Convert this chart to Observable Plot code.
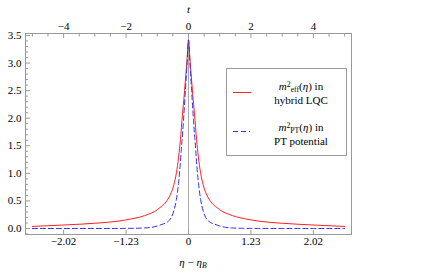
<!DOCTYPE html>
<html><head><meta charset="utf-8">
<script src="https://cdn.jsdelivr.net/npm/d3@7"></script>
<script src="https://cdn.jsdelivr.net/npm/@observablehq/plot@0.6"></script>
<style>
body{margin:0;background:#fff;}
#wrap{position:relative;width:442px;height:275px;font-family:"Liberation Serif","Times New Roman","DejaVu Serif",serif;font-size:11px;color:#000}
#wrap svg text{font-family:"Liberation Serif","Times New Roman","DejaVu Serif",serif}
.ov{position:absolute;white-space:nowrap;line-height:14px}
.lt{position:absolute;left:30px;width:88px;text-align:center;line-height:14px;white-space:nowrap}
sup,sub{font-size:70%;line-height:0;position:relative;vertical-align:baseline}
sup{top:-0.45em} sub{top:0.25em}
</style></head><body><div id="wrap"></div>
<script>
// Series (x in t units, top axis)
const tRed = [-5.0,-4.5,-3.89,-3.0,-2.29,-1.82,-1.54,-1.28,-1.08,-0.91,-0.75,-0.62,-0.48,-0.37,-0.30,-0.245,-0.21,-0.15,-0.1,-0.05,0,0.05,0.1,0.15,0.21,0.245,0.30,0.37,0.48,0.62,0.75,0.91,1.08,1.28,1.54,1.82,2.29,3.0,3.89,4.5,5.0];
const redVals = [0.037,0.05,0.066,0.095,0.13,0.175,0.21,0.26,0.31,0.38,0.46,0.57,0.77,1.07,1.38,1.70,1.96,2.34,2.68,3.04,3.42,3.04,2.68,2.34,1.96,1.70,1.38,1.07,0.77,0.57,0.46,0.38,0.31,0.26,0.21,0.175,0.13,0.095,0.066,0.05,0.037];
const tBlue = [-5.0,-4.0,-3.0,-2.2,-1.7,-1.4,-1.2,-1.0,-0.85,-0.75,-0.65,-0.55,-0.47,-0.39,-0.32,-0.27,-0.235,-0.2,-0.16,-0.1,-0.05,0,0.05,0.1,0.16,0.2,0.235,0.27,0.32,0.39,0.47,0.55,0.65,0.75,0.85,1.0,1.2,1.4,1.7,2.2,3.0,4.0,5.0];
const blueVals = [0,0,0,0.001,0.004,0.01,0.02,0.045,0.075,0.095,0.13,0.2,0.32,0.52,0.82,1.12,1.40,1.65,1.96,2.5,2.95,3.42,2.95,2.5,1.96,1.65,1.40,1.12,0.82,0.52,0.32,0.2,0.13,0.095,0.075,0.045,0.02,0.01,0.004,0.001,0,0,0];

// Ticks
const topMajor = [-4,-2,0,2,4];
const topMinor = [-5,-4.5,-3.5,-3,-2.5,-1.5,-1,-0.5,0.5,1,1.5,2.5,3,3.5,4.5,5];
const bottomT = [-4,-2,0,2,4];
const bottomLabels = ["−2.02","−1.23","0","1.23","2.02"];
const yMajor = [0,0.5,1,1.5,2,2.5,3,3.5];
const yMinor = [-0.1,0.1,0.2,0.3,0.4,0.6,0.7,0.8,0.9,1.1,1.2,1.3,1.4,1.6,1.7,1.8,1.9,2.1,2.2,2.3,2.4,2.6,2.7,2.8,2.9,3.1,3.2,3.3,3.4];

const red = tRed.map((t,i)=>({t, v: redVals[i]}));
const blue = tBlue.map((t,i)=>({t, v: blueVals[i]}));
const gray = "#999";

const chart = Plot.plot({
  width: 442, height: 275,
  marginLeft: 25, marginRight: 91, marginTop: 33, marginBottom: 41,
  x: {domain: [-5.22, 5.22]},
  y: {domain: [-0.109, 3.536]},
  style: {fontFamily: "'Liberation Serif', 'Times New Roman', 'DejaVu Serif', serif", fontSize: "11px", background: "white", color: "black"},
  marks: [
    Plot.ruleX([0], {stroke: "#aaa", strokeWidth: 1}),
    Plot.line(red, {x: "t", y: "v", stroke: "#ff2020", strokeWidth: 1, curve: "monotone-x"}),
    Plot.line(blue, {x: "t", y: "v", stroke: "#3030ff", strokeWidth: 1, strokeDasharray: "5,3", curve: "monotone-x"}),
    Plot.frame({stroke: gray}),
    Plot.axisY(yMajor, {anchor: "left", tickSize: -5, tickPadding: 9, tickFormat: d3.format(".1f"), stroke: gray, fill: "black", label: null}),
    Plot.axisY(yMinor, {anchor: "left", tickSize: -3, tickFormat: () => "", stroke: gray, label: null}),
    Plot.axisX(topMajor, {anchor: "top", tickSize: -4, tickPadding: 7.5, stroke: gray, fill: "black", label: null}),
    Plot.axisX(topMinor, {anchor: "top", tickSize: -2.5, tickFormat: () => "", stroke: gray, label: null}),
    Plot.axisX(bottomT, {anchor: "bottom", tickSize: -4, tickPadding: 7, tickFormat: d => bottomLabels[bottomT.indexOf(d)], stroke: gray, fill: "black", label: null}),
    Plot.text(["t"], {text: d => d, frameAnchor: "top", dy: -28, fontStyle: "italic"})
  ]
});
const wrap = document.getElementById("wrap");
wrap.appendChild(chart);

const xl = document.createElement("div");
xl.className = "ov";
xl.style.cssText = "left:193px;top:255px;transform:translateX(-50%)";
xl.innerHTML = "<i>η</i> − <i>η</i><sub><i>B</i></sub>";
wrap.appendChild(xl);

const lg = document.createElement("div");
lg.style.cssText = "position:absolute;left:226px;top:68px;width:119px;height:86px;border:1px solid #999;background:#fff";
lg.innerHTML =
  '<svg style="position:absolute;left:6px;top:20px" width="20" height="7"><line x1="0" x2="18" y1="3.5" y2="3.5" stroke="#ff2020" stroke-width="1"/></svg>' +
  '<div class="lt" style="top:10px"><i>m</i><sup>2</sup><sub>eff</sub>(<i>η</i>) in<br>hybrid LQC</div>' +
  '<svg style="position:absolute;left:6px;top:59px" width="20" height="7"><line x1="0" x2="17" y1="3.5" y2="3.5" stroke="#3030ff" stroke-width="1" stroke-dasharray="5,3"/></svg>' +
  '<div class="lt" style="top:51px"><i>m</i><sup>2</sup><sub>PT</sub>(<i>η</i>) in<br>PT potential</div>';
wrap.appendChild(lg);
</script></body></html>
